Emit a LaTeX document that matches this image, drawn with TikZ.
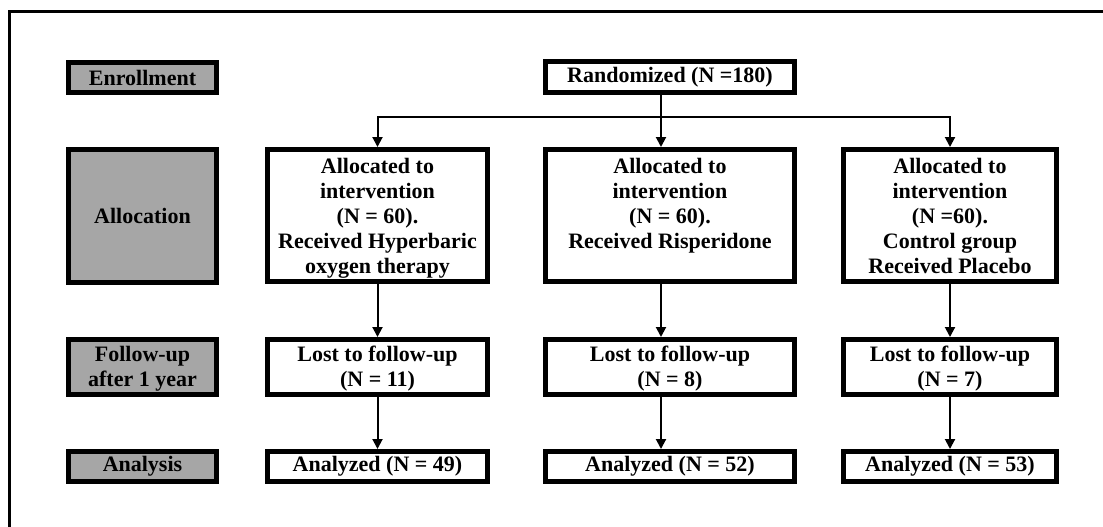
\documentclass[tikz,border=0pt]{standalone}
\usepackage{fontspec}
\setmainfont{Liberation Serif}
\usetikzlibrary{arrows.meta}
\definecolor{labgray}{RGB}{166,166,166}
\newcommand{\toptext}[2]{\parbox[c][124pt][t]{#1}{\centering\rule{0pt}{20pt}#2}}
\tikzset{
  boxbase/.style={draw=black, line width=5pt, inner sep=0pt, align=center,
    font=\bfseries\fontsize{22}{25}\selectfont, text=black},
  labbox/.style={boxbase, fill=labgray},
  mainbox/.style={boxbase, fill=white},
  arr/.style={draw=black, line width=2pt, -{Triangle[length=10pt,width=10pt]}},
  frame/.style={draw=black, line width=3pt}
}
\begin{document}
\begin{tikzpicture}[x=1pt,y=-1pt]
\useasboundingbox (0,0) rectangle (1103,527);
\coordinate (ftop) at (1103,11.5);
\coordinate (fcorner) at (9.5,11.5);
\coordinate (fbot) at (9.5,527);
\draw[frame] (ftop) -- (fcorner) -- (fbot);

% stage labels
\node[labbox, minimum width=148pt, minimum height=30pt] (enroll) at (142.5,77.5) {Enrollment};
\node[labbox, minimum width=148pt, minimum height=133pt] (alloclab) at (142.5,216) {Allocation};
\node[labbox, minimum width=148pt, minimum height=55pt] (followlab) at (142.5,367) {\rule{0pt}{19pt}Follow-up\\after 1 year};
\node[labbox, minimum width=148pt, minimum height=30pt] (analysislab) at (142.5,466.5) {Analysis};

% randomized
\node[mainbox, minimum width=249pt, minimum height=31pt] (rand) at (670,77) {Randomized (N =180)};

% allocation
\node[mainbox, minimum width=220pt, minimum height=132pt] (alloc1) at (377.5,215.5)
  {\toptext{210pt}{Allocated to\\intervention\\(N = 60).\\Received Hyperbaric\\oxygen therapy}};
\node[mainbox, minimum width=249pt, minimum height=132pt] (alloc2) at (670,215.5)
  {\toptext{240pt}{Allocated to\\intervention\\(N = 60).\\Received Risperidone}};
\node[mainbox, minimum width=213pt, minimum height=132pt] (alloc3) at (950,215.5)
  {\toptext{205pt}{Allocated to\\intervention\\(N =60).\\Control group\\Received Placebo}};

% follow-up
\node[mainbox, minimum width=220pt, minimum height=55pt] (lost1) at (377.5,367) {\rule{0pt}{19pt}Lost to follow-up\\(N = 11)};
\node[mainbox, minimum width=249pt, minimum height=55pt] (lost2) at (670,367) {\rule{0pt}{19pt}Lost to follow-up\\(N = 8)};
\node[mainbox, minimum width=213pt, minimum height=55pt] (lost3) at (950,367) {\rule{0pt}{19pt}Lost to follow-up\\(N = 7)};

% analysis
\node[mainbox, minimum width=220pt, minimum height=30pt] (anal1) at (377.5,466.5) {Analyzed (N = 49)};
\node[mainbox, minimum width=249pt, minimum height=30pt] (anal2) at (670,466.5) {Analyzed (N = 52)};
\node[mainbox, minimum width=213pt, minimum height=30pt] (anal3) at (950,466.5) {Analyzed (N = 53)};

% connectors
\coordinate (hub) at (661,117);
\draw[arr] (rand.south -| hub) -- (alloc2.north -| hub);
\draw[arr] (hub) -| (alloc1.north);
\draw[arr] (hub) -| (alloc3.north);

\draw[arr] (alloc1.south) -- (lost1.north);
\draw[arr] (alloc2.south -| hub) -- (lost2.north -| hub);
\draw[arr] (alloc3.south) -- (lost3.north);

\draw[arr] (lost1.south) -- (anal1.north);
\draw[arr] (lost2.south -| hub) -- (anal2.north -| hub);
\draw[arr] (lost3.south) -- (anal3.north);
\end{tikzpicture}
\end{document}
